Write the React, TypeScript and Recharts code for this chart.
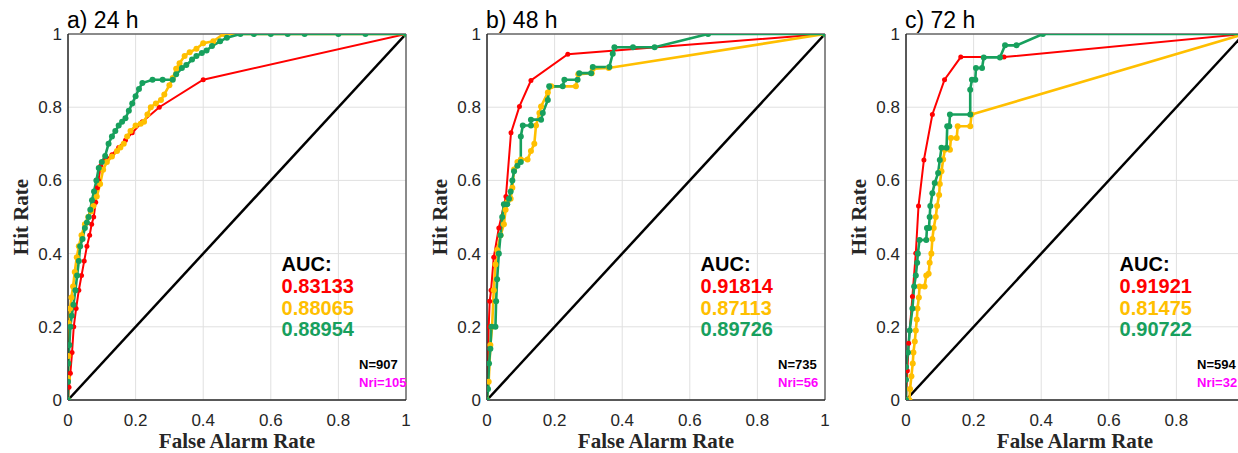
import React from 'react';
import { LineChart, Line, XAxis, YAxis, CartesianGrid, ReferenceArea, ReferenceDot, Label } from 'recharts';

// ---------- data: [False Alarm Rate, Hit Rate] ----------
const diagonal = [[0, 0], [1, 1]];

const red24 = [[0,0],[0.003,0.035],[0.007,0.073],[0.012,0.13],[0.017,0.2],[0.024,0.25],[0.032,0.3],[0.04,0.34],[0.048,0.38],[0.056,0.42],[0.064,0.45],[0.07,0.48],[0.076,0.5],[0.082,0.54],[0.087,0.58],[0.09,0.6],[0.097,0.64],[0.11,0.655],[0.13,0.67],[0.15,0.69],[0.17,0.71],[0.19,0.73],[0.22,0.76],[0.27,0.8],[0.4,0.875],[1,1]];
const yellow24 = [[0,0],[0,0.06],[0.001,0.12],[0.002,0.21],[0.006,0.25],[0.01,0.28],[0.015,0.31],[0.02,0.35],[0.026,0.39],[0.032,0.42],[0.04,0.45],[0.05,0.48],[0.06,0.5],[0.068,0.515],[0.075,0.53],[0.085,0.556],[0.095,0.59],[0.104,0.629],[0.115,0.65],[0.13,0.665],[0.145,0.68],[0.155,0.69],[0.165,0.7],[0.175,0.72],[0.185,0.735],[0.2,0.75],[0.215,0.755],[0.225,0.76],[0.235,0.78],[0.245,0.8],[0.26,0.81],[0.275,0.82],[0.285,0.835],[0.3,0.86],[0.31,0.88],[0.32,0.905],[0.33,0.92],[0.345,0.94],[0.36,0.95],[0.38,0.96],[0.4,0.975],[0.43,0.98],[0.46,1],[1,1]];
const green24 = [[0,0],[0,0.05],[0.001,0.1],[0.004,0.15],[0.007,0.2],[0.011,0.23],[0.016,0.26],[0.022,0.3],[0.027,0.34],[0.032,0.38],[0.036,0.42],[0.043,0.44],[0.05,0.47],[0.056,0.485],[0.061,0.5],[0.066,0.52],[0.071,0.546],[0.077,0.57],[0.084,0.6],[0.091,0.634],[0.1,0.65],[0.11,0.667],[0.12,0.7],[0.13,0.72],[0.14,0.735],[0.15,0.75],[0.16,0.76],[0.17,0.77],[0.18,0.79],[0.19,0.81],[0.2,0.83],[0.21,0.85],[0.22,0.866],[0.25,0.875],[0.28,0.875],[0.31,0.875],[0.32,0.89],[0.337,0.907],[0.35,0.915],[0.367,0.93],[0.38,0.94],[0.396,0.948],[0.41,0.955],[0.426,0.967],[0.45,0.98],[0.47,0.99],[0.51,1],[0.55,1],[0.6,1],[0.65,1],[0.7,1],[0.8,1],[0.88,1],[1,1]];

const red48 = [[0,0],[0.003,0.1],[0.005,0.2],[0.008,0.27],[0.012,0.3],[0.02,0.39],[0.035,0.47],[0.056,0.556],[0.071,0.73],[0.096,0.802],[0.13,0.873],[0.239,0.945],[1,1]];
const yellow48 = [[0,0],[0.005,0.05],[0.01,0.15],[0.015,0.2],[0.02,0.3],[0.025,0.37],[0.03,0.41],[0.04,0.45],[0.05,0.48],[0.055,0.52],[0.06,0.54],[0.07,0.55],[0.075,0.58],[0.08,0.63],[0.09,0.65],[0.1,0.657],[0.12,0.657],[0.13,0.68],[0.14,0.7],[0.145,0.75],[0.155,0.784],[0.16,0.802],[0.18,0.84],[0.19,0.857],[0.263,0.857],[0.27,0.89],[0.31,0.893],[0.313,0.905],[0.36,0.907],[1,1]];
const green48 = [[0,0],[0.003,0.03],[0.006,0.1],[0.01,0.14],[0.013,0.2],[0.025,0.2],[0.027,0.27],[0.03,0.33],[0.035,0.4],[0.04,0.45],[0.045,0.5],[0.05,0.535],[0.06,0.535],[0.065,0.55],[0.07,0.57],[0.075,0.6],[0.08,0.625],[0.09,0.64],[0.1,0.65],[0.1,0.72],[0.106,0.75],[0.13,0.75],[0.13,0.766],[0.16,0.766],[0.165,0.784],[0.18,0.82],[0.184,0.857],[0.224,0.857],[0.229,0.875],[0.268,0.875],[0.273,0.893],[0.308,0.893],[0.313,0.91],[0.362,0.91],[0.372,0.946],[0.377,0.964],[0.432,0.964],[0.496,0.964],[0.654,1],[1,1]];

const red72 = [[0,0],[0.004,0.08],[0.008,0.155],[0.019,0.283],[0.029,0.401],[0.037,0.53],[0.053,0.656],[0.078,0.78],[0.114,0.875],[0.162,0.937],[0.29,0.937],[1,1]];
const yellow72 = [[0,0],[0.01,0],[0.012,0.03],[0.016,0.065],[0.02,0.1],[0.022,0.13],[0.026,0.16],[0.029,0.19],[0.032,0.22],[0.034,0.25],[0.038,0.28],[0.04,0.31],[0.055,0.31],[0.06,0.34],[0.067,0.345],[0.07,0.375],[0.075,0.4],[0.078,0.44],[0.082,0.47],[0.088,0.5],[0.092,0.53],[0.098,0.56],[0.1,0.59],[0.105,0.625],[0.11,0.657],[0.115,0.684],[0.13,0.684],[0.133,0.716],[0.15,0.716],[0.153,0.748],[0.19,0.748],[0.194,0.78],[1,1]];
const green72 = [[0,0],[0,0.055],[0,0.09],[0.006,0.13],[0.011,0.19],[0.019,0.25],[0.024,0.31],[0.029,0.34],[0.033,0.375],[0.035,0.4],[0.04,0.437],[0.06,0.437],[0.062,0.47],[0.068,0.47],[0.07,0.5],[0.072,0.53],[0.078,0.565],[0.085,0.593],[0.095,0.62],[0.1,0.656],[0.105,0.689],[0.12,0.689],[0.122,0.748],[0.128,0.748],[0.13,0.78],[0.19,0.78],[0.19,0.848],[0.195,0.875],[0.205,0.875],[0.207,0.907],[0.225,0.907],[0.23,0.936],[0.278,0.936],[0.293,0.969],[0.327,0.969],[0.405,1],[1,1]];

const titles = ['a) 24 h', 'b) 48 h', 'c) 72 h'];
const aucRed = ['0.83133', '0.91814', '0.91921'];
const aucYellow = ['0.88065', '0.87113', '0.81475'];
const aucGreen = ['0.88954', '0.89726', '0.90722'];
const nTotal = ['N=907', 'N=735', 'N=594'];
const nRi = ['Nri=105', 'Nri=56', 'Nri=32'];
const TICKS = [0, 0.2, 0.4, 0.6, 0.8, 1];

// ---------- styles ----------
const RED = '#ff0000';
const YELLOW = '#ffbf00';
const GREEN = '#17a05d';
const MAGENTA = '#ff00ff';
const AXIS = '#262626';
const SANS = '"Liberation Sans", Arial, sans-serif';
const SERIF = '"Liberation Serif", "Times New Roman", serif';

const toPts = (a: number[][]) => a.map(([x, y]) => ({ x, y }));

const AucBlock = ({ vb, i }: any) => {
  if (!vb) return null;
  const x = vb.x;
  const y = vb.y;
  const st = { fontFamily: SANS, fontWeight: 700, fontSize: 20 } as const;
  return (
    <g>
      <text x={x} y={y} fill="#000" {...st}>AUC:</text>
      <text x={x} y={y + 21.7} fill={RED} {...st}>{aucRed[i]}</text>
      <text x={x} y={y + 43.4} fill={YELLOW} {...st}>{aucYellow[i]}</text>
      <text x={x} y={y + 65.1} fill={GREEN} {...st}>{aucGreen[i]}</text>
    </g>
  );
};

const NBlock = ({ vb, i }: any) => {
  if (!vb) return null;
  const st = { fontFamily: SANS, fontWeight: 700, fontSize: 13 } as const;
  return (
    <g>
      <text x={vb.x} y={vb.y} fill="#000" {...st}>{nTotal[i]}</text>
      <text x={vb.x} y={vb.y + 18} fill={MAGENTA} {...st}>{nRi[i]}</text>
    </g>
  );
};

const TitleBlock = ({ vb, i }: any) => {
  if (!vb) return null;
  return (
    <text x={vb.x - 1} y={vb.y - 6} fill="#000" fontFamily={SANS} fontSize={23}>{titles[i]}</text>
  );
};

const XTitle = ({ vb }: any) => {
  if (!vb) return null;
  return (
    <text x={vb.x} y={vb.y + 48} textAnchor="middle" fill={AXIS} fontSize={21} fontWeight={700} fontFamily={SERIF}>
      False Alarm Rate
    </text>
  );
};

const Panel = ({ i, left, red, yellow, green }: any) => (
  <div style={{ position: 'absolute', left, top: 0, width: 452 }}>
    <LineChart width={452} height={453} margin={{ top: 34, right: 20, bottom: 0, left: 0 }}>
      <CartesianGrid stroke="#e0e0e0" strokeWidth={1} />
      <XAxis
        dataKey="x"
        type="number"
        domain={[0, 1]}
        ticks={TICKS}
        tickFormatter={(v: number) => String(v)}
        height={53}
        tickLine={false}
        tickSize={6}
        tickMargin={8}
        axisLine={{ stroke: AXIS }}
        tick={{ fill: AXIS, fontSize: 17, fontFamily: SANS }}
        allowDataOverflow
      />
      <YAxis
        dataKey="y"
        type="number"
        domain={[0, 1]}
        ticks={TICKS}
        tickFormatter={(v: number) => String(v)}
        width={94}
        tickLine={false}
        tickSize={4}
        tickMargin={2}
        axisLine={{ stroke: AXIS }}
        tick={{ fill: AXIS, fontSize: 17, fontFamily: SANS }}
        allowDataOverflow
      >
        <Label value="Hit Rate" position="center" angle={-90} fill={AXIS} fontSize={21} fontWeight={700} fontFamily={SERIF} />
      </YAxis>
      <ReferenceArea x1={0} x2={1} y1={0} y2={1} fill="none" stroke={AXIS} strokeWidth={1} />
      <Line data={toPts(diagonal)} dataKey="y" stroke="#000" strokeWidth={2.5} dot={false} isAnimationActive={false} />
      <Line data={toPts(red)} dataKey="y" stroke={RED} strokeWidth={2} dot={{ r: 2.5, fill: RED, stroke: RED, strokeWidth: 0 }} isAnimationActive={false} />
      <Line data={toPts(yellow)} dataKey="y" stroke={YELLOW} strokeWidth={2.6} dot={{ r: 3, fill: YELLOW, stroke: YELLOW, strokeWidth: 0 }} isAnimationActive={false} />
      <Line data={toPts(green)} dataKey="y" stroke={GREEN} strokeWidth={2.6} dot={{ r: 3, fill: GREEN, stroke: GREEN, strokeWidth: 0 }} isAnimationActive={false} />
      <ReferenceDot x={0} y={1} r={0} fill="none" stroke="none" ifOverflow="visible" label={{ content: (p: any) => <TitleBlock vb={p.viewBox} i={i} /> }} />
      <ReferenceDot x={0.5} y={0} r={0} fill="none" stroke="none" ifOverflow="visible" label={{ content: (p: any) => <XTitle vb={p.viewBox} /> }} />
      <ReferenceDot x={0.632} y={0.352} r={0} fill="none" stroke="none" ifOverflow="visible" label={{ content: (p: any) => <AucBlock vb={p.viewBox} i={i} /> }} />
      <ReferenceDot x={0.861} y={0.085} r={0} fill="none" stroke="none" ifOverflow="visible" label={{ content: (p: any) => <NBlock vb={p.viewBox} i={i} /> }} />
    </LineChart>
  </div>
);

export default function App() {
  return (
    <div style={{ position: 'relative', width: 1238, height: 453, overflow: 'hidden', background: '#fff' }}>
      <style>{'html, body { margin: 0; padding: 0; overflow: hidden; }'}</style>
      <Panel i={0} left={-26} red={red24} yellow={yellow24} green={green24} />
      <Panel i={1} left={393} red={red48} yellow={yellow48} green={green48} />
      <Panel i={2} left={812} red={red72} yellow={yellow72} green={green72} />
    </div>
  );
}
